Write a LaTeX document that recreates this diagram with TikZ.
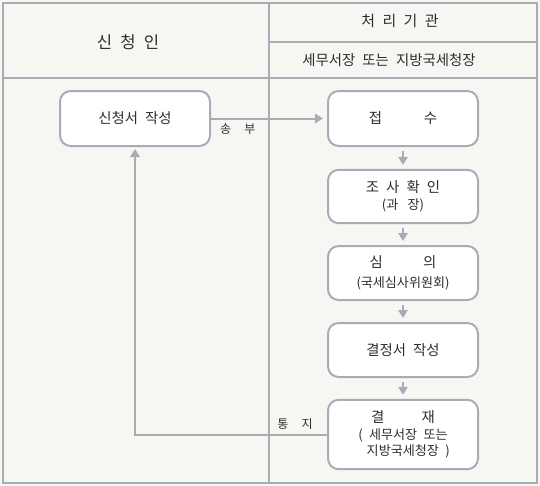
\documentclass[tikz,border=0pt]{standalone}
\usepackage{fontspec}
\setmainfont{Noto Sans CJK KR}[WordSpace=2.2]
\usetikzlibrary{positioning, arrows.meta}

\definecolor{linegray}{RGB}{168,173,181}
\definecolor{bggray}{RGB}{246,246,243}
\definecolor{txtgray}{RGB}{45,45,45}
\newcommand{\subsize}{\fontsize{9.8}{14}\selectfont}

\begin{document}
\begin{tikzpicture}[
    x=0.75pt, y=-0.75pt,
    >={Triangle[length=6pt, width=7pt]},
    box/.style={
        draw=linegray, line width=1.5pt, fill=white, rounded corners=8pt,
        minimum width=112.5pt, minimum height=41pt, inner sep=0pt,
        align=center, text=txtgray, font=\fontsize{10.8}{14}\selectfont
    },
    flow/.style={->, draw=linegray, line width=1.5pt, shorten <=3pt, shorten >=3pt},
    note/.style={text=txtgray, font=\fontsize{9}{10}\selectfont, inner sep=1pt},
    head/.style={text=txtgray, font=\fontsize{11.2}{12}\selectfont}
]

% Background and table frame
\fill[bggray] (0,0) rectangle (540,486);
\draw[linegray, line width=1.5pt] (3,3) rectangle (537,483);
\draw[linegray, line width=1.5pt] (3,78) -- (537,78);
\draw[linegray, line width=1.5pt] (269,3) -- (269,483);
\draw[linegray, line width=1.5pt] (269,42) -- (537,42);

% -------------------------
% Column Headers
% -------------------------
\node[head, font=\fontsize{12.5}{14}\selectfont] (applicant) at (128,42) {신 청 인};
\node[head] (agency) at (400,21) {처 리 기 관};
\node[head, font=\fontsize{10.8}{12}\selectfont] (office) at (389,60) {세무서장 또는 지방국세청장};

% -------------------------
% Process Steps
% -------------------------

% 1. Application (Left)
\node[box, minimum height=41.25pt] (apply) at (135,118.5) {신청서 작성};

% 2. Receipt (Right column)
\node[box, minimum height=41.25pt] (receive) at (403,118.5) {접\hspace{2.9em}수};

% 3. Investigation
\node[box, minimum height=40pt] (check) at (403,196.5) {조 사 확 인\\[-1pt]{\subsize(과\hspace{0.7em}장)}};

% 4. Review
\node[box, minimum height=40.5pt] (review) at (403,273) {심\hspace{2.8em}의\\[1pt]{\subsize(국세심사위원회)}};

% 5. Decision
\node[box, minimum height=40.5pt] (decide) at (403,350) {결정서 작성};

% 6. Approval
\node[box, minimum height=52pt, font=\fontsize{10.8}{12.5}\selectfont] (approve) at (403,434.5)
    {결\hspace{2.6em}재\\{\subsize( 세무서장 또는}\\{\subsize\hspace*{0.8em}지방국세청장 )}};

% -------------------------
% Connections
% -------------------------

% apply -> receive
\draw[flow, shorten <=0pt] (apply.east) -- (receive.west)
    node[note, pos=0.23, below=2pt] {송\hspace{1.1em}부};

% receive -> check -> review -> decide -> approve
\draw[flow] (receive) -- (check);
\draw[flow] (check) -- (review);
\draw[flow] (review) -- (decide);
\draw[flow] (decide) -- (approve);

% approve -> apply (result back to applicant)
\draw[flow, shorten <=0pt, shorten >=1.5pt] (approve.west) -| (apply.south)
    node[note, pos=0.083, above=2pt] {통\hspace{1.1em}지};

\end{tikzpicture}
\end{document}
